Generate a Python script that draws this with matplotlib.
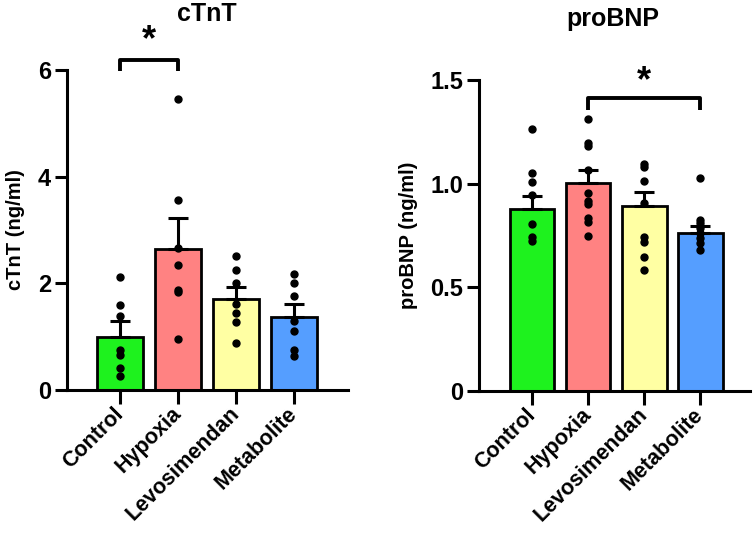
import numpy as np
import matplotlib
matplotlib.use("Agg")
from matplotlib import pyplot as plt

plt.rcParams['font.family'] = ['Liberation Sans', 'DejaVu Sans']
plt.rcParams['font.weight'] = 'bold'

groups = ['Control', 'Hypoxia', 'Levosimendan', 'Metabolite']
bar_colors = ['#1EF21E', '#FF8282', '#FFFFA3', '#559EFF']

# cTnT (ng/ml)
ctnt_mean = [1.00, 2.65, 1.70, 1.37]
ctnt_sem = [0.29, 0.58, 0.24, 0.25]
ctnt_points = [
    [2.12, 1.59, 1.39, 0.75, 0.66, 0.42, 0.27],
    [5.46, 3.56, 2.66, 2.34, 1.88, 1.84, 0.96],
    [2.51, 2.25, 2.00, 1.62, 1.45, 1.27, 0.88],
    [2.17, 2.00, 1.77, 1.29, 1.11, 0.75, 0.64],
]
ctnt_ticks = [0, 2, 4, 6]

# proBNP (ng/ml)
bnp_mean = [0.878, 1.002, 0.892, 0.761]
bnp_sem = [0.063, 0.064, 0.066, 0.036]
bnp_points = [
    [1.264, 1.05, 1.007, 0.945, 0.806, 0.744, 0.725],
    [1.312, 1.198, 1.182, 1.066, 0.957, 0.918, 0.90, 0.833, 0.817, 0.749],
    [1.095, 1.079, 1.014, 0.905, 0.741, 0.72, 0.648, 0.583],
    [1.026, 0.825, 0.809, 0.785, 0.761, 0.737, 0.712, 0.68],
]
bnp_ticks = [0, 0.5, 1.0, 1.5]
bnp_ticklabels = ['0', '0.5', '1.0', '1.5']

fig = plt.figure(figsize=(7.54, 5.34), dpi=100)
W, H = 754, 534
ax1 = fig.add_axes([67 / W, (H - 390) / H, (348 - 67) / W, (390 - 70) / H])
ax2 = fig.add_axes([479 / W, (H - 391) / H, (750 - 479) / W, (391 - 80) / H])


def draw_panel(ax, means, sems, points, ylim, ticks, ylabel):
    x = np.arange(len(groups))
    ax.bar(x, means, width=0.8, color=bar_colors, edgecolor='black',
           linewidth=2, zorder=1)
    ax.errorbar(x, means, yerr=[np.zeros(len(means)), sems], fmt='none',
                ecolor='black', elinewidth=2.2, capsize=7, capthick=2.2,
                zorder=2)
    for i, pts in enumerate(points):
        ax.plot(np.full(len(pts), x[i]), pts, 'o', color='black',
                markersize=5, zorder=3, clip_on=False)
    ax.set_ylim(*ylim)
    ax.set_yticks(ticks)
    ax.set_xticks(x)
    ax.set_xticklabels(groups, rotation=45, ha='right', va='center',
                       rotation_mode='anchor', fontweight='bold')
    ax.set_ylabel(ylabel, fontsize=14.5, fontweight='bold', labelpad=9)
    for s in ['top', 'right']:
        ax.spines[s].set_visible(False)
    for s in ['left', 'bottom']:
        ax.spines[s].set_linewidth(2.2)
    ax.tick_params(axis='both', width=2.2)
    ax.tick_params(axis='y', pad=3, length=8.5, labelsize=17)
    ax.tick_params(axis='x', pad=5, length=10, labelsize=15.5)
    for lab in ax.get_yticklabels():
        lab.set_fontweight('bold')


def bracket(ax, x0, x1, y_low, y_high, y_star):
    ax.plot([x0, x0, x1, x1], [y_low, y_high, y_high, y_low], color='black',
            linewidth=2.8, clip_on=False, solid_capstyle='butt')
    ax.text((x0 + x1) / 2, y_star, '*', ha='center', va='center',
            fontsize=26, fontweight='bold', clip_on=False)


draw_panel(ax1, ctnt_mean, ctnt_sem, ctnt_points, (0, 6), ctnt_ticks,
           'cTnT (ng/ml)')
ax1.set_xlim(-0.914, 3.93)
bracket(ax1, 0, 1, 5.98, 6.19, 6.55)

draw_panel(ax2, bnp_mean, bnp_sem, bnp_points, (0, 1.5), bnp_ticks,
           'proBNP (ng/ml)')
ax2.set_yticklabels(bnp_ticklabels, fontweight='bold')
ax2.set_xlim(-0.946, 3.89)
bracket(ax2, 1, 3, 1.355, 1.413, 1.49)

fig.text(207 / W, 1 - 14 / H, 'cTnT', ha='center', va='center',
         fontsize=18, fontweight='bold')
fig.text(613 / W, 1 - 19 / H, 'proBNP', ha='center', va='center',
         fontsize=18, fontweight='bold')

fig.savefig('out.png', dpi=100)
